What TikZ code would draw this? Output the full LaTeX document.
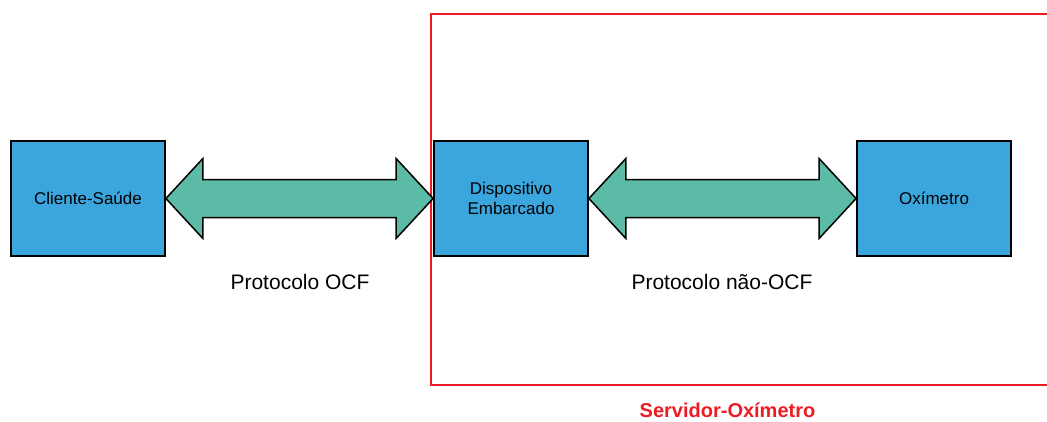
\documentclass[tikz,border=0pt]{standalone}
\usepackage{fontspec}
\setmainfont{Liberation Sans}
\usetikzlibrary{calc}
\definecolor{boxblue}{RGB}{58,166,221}
\definecolor{linkgreen}{RGB}{92,187,166}
\definecolor{frame}{RGB}{237,28,36}
\begin{document}
\begin{tikzpicture}[x=1pt,y=-1pt,
  block/.style={draw=black,line width=1.8pt,fill=boxblue,minimum width=154pt,minimum height=115pt,
    inner sep=0pt,font=\fontsize{17}{20}\selectfont,align=center},
  link/.style={draw=black,line width=1.5pt,fill=linkgreen,line join=miter},
  caption/.style={font=\fontsize{21}{25}\selectfont},
  groupframe/.style={draw=frame,line width=2.8pt}]
\useasboundingbox (0,0) rectangle (1047,421);
\begin{scope}
\clip (0,0) rectangle (1047,421);
% Server group frame (runs off the right edge)
\draw[groupframe] (431,14) rectangle (1060,385);
\end{scope}

% Blocks
\node[block] (cli) at (88,198.5) {Cliente-Saúde};
\node[block] (dev) at (511,198.5) {Dispositivo\\Embarcado};
\node[block] (oxi) at (934,198.5) {Oxímetro};

% Double-headed block arrows between neighbours
\draw[link] (cli.east) -- ++(37,-40) -- ++(0,21) -- ($(dev.west)+(-37,-19)$) -- ++(0,-21)
  -- (dev.west) -- ++(-37,40) -- ++(0,-21) -- ($(cli.east)+(37,19)$) -- ++(0,21) -- cycle;
\draw[link] (dev.east) -- ++(37,-40) -- ++(0,21) -- ($(oxi.west)+(-37,-19)$) -- ++(0,-21)
  -- (oxi.west) -- ++(-37,40) -- ++(0,-21) -- ($(dev.east)+(37,19)$) -- ++(0,21) -- cycle;

% Labels
\node[caption] (ocf) at (300,282) {Protocolo OCF};
\node[caption] (nocf) at (722,282) {Protocolo não-OCF};
\node[font=\fontsize{20}{24}\selectfont\bfseries,text=frame,inner sep=0pt,anchor=base]
  (srv) at (727.5,417) {Servidor-Oxímetro};
\end{tikzpicture}
\end{document}
